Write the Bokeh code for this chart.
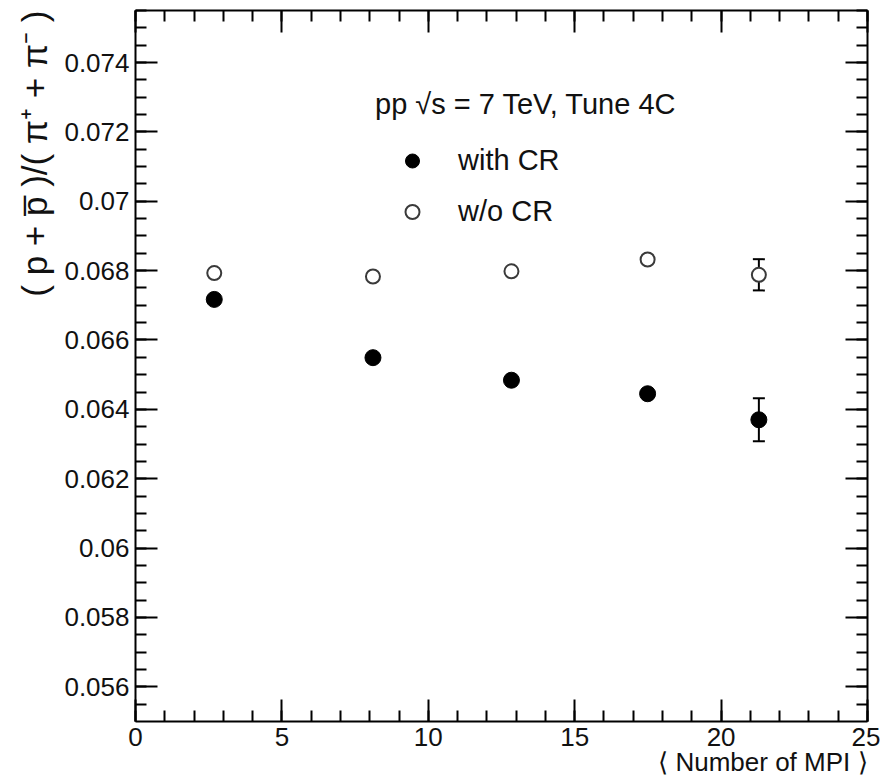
import numpy as np
from bokeh.plotting import figure
from bokeh.models import (ColumnDataSource, Whisker, TeeHead, LinearAxis, FixedTicker,
                          Legend, LegendItem, Range1d, CustomJSTickFormatter, Title)
from bokeh.embed import file_html
from bokeh.resources import INLINE

# ---- data ----
n_mpi = [2.69, 8.11, 12.84, 17.49, 21.29]
ratio_with_cr = [0.06717, 0.06549, 0.06484, 0.06445, 0.06370]
err_with_cr = [0.00008, 0.00008, 0.00008, 0.00008, 0.00062]
ratio_without_cr = [0.06793, 0.06783, 0.06798, 0.06832, 0.06788]
err_without_cr = [0.00008, 0.00008, 0.00008, 0.00008, 0.00045]

x_ticks = [0, 5, 10, 15, 20, 25]
x_tick_labels = ["0", "5", "10", "15", "20", "25"]
y_ticks = [0.056, 0.058, 0.060, 0.062, 0.064, 0.066, 0.068, 0.070, 0.072, 0.074]
y_tick_labels = ["0.056", "0.058", "0.06", "0.062", "0.064", "0.066", "0.068", "0.07", "0.072", "0.074"]

x_label = "\u27e8 Number of MPI \u27e9"
y_label = "( p + p\u0305 )/( \u03c0\u207a + \u03c0\u207b )"
legend_title = "pp \u221as = 7 TeV, Tune 4C"
series_labels = ["with CR", "w/o CR"]

FONT = "Liberation Sans"

x_range = (0, 25)
y_range = (0.055, 0.0755)

p = figure(width=880, height=778, x_range=Range1d(*x_range), y_range=Range1d(*y_range),
           output_backend="svg", toolbar_location=None,
           x_axis_type=None, y_axis_type=None,
           min_border_left=135, min_border_right=13, min_border_top=10, min_border_bottom=57)
p.outline_line_color = None
p.xgrid.visible = False
p.ygrid.visible = False
p.background_fill_color = "white"
p.border_fill_color = "white"

x_minor = [float(v) for v in range(0, 26)]
y_minor = [round(v, 4) for v in np.arange(0.0555, 0.07551, 0.0005)]
xt = FixedTicker(ticks=x_ticks, minor_ticks=x_minor)
yt = FixedTicker(ticks=y_ticks, minor_ticks=y_minor)


def style_axis(ax, show_labels):
    ax.axis_line_color = "black"
    ax.axis_line_width = 2
    ax.major_tick_line_color = "black"
    ax.major_tick_line_width = 2
    ax.minor_tick_line_color = "black"
    ax.minor_tick_line_width = 2
    ax.major_tick_in = 22
    ax.major_tick_out = 0
    ax.minor_tick_in = 11
    ax.minor_tick_out = 0
    if show_labels:
        ax.major_label_text_font = FONT
        ax.major_label_text_font_size = "26px"
        ax.major_label_text_color = "#111111"
        ax.major_label_standoff = 6
    else:
        ax.formatter = CustomJSTickFormatter(code="return ''")
        ax.major_label_text_font_size = "0px"
        ax.major_label_standoff = 0


ax_b = LinearAxis(ticker=xt, major_label_overrides=dict(zip(x_ticks, x_tick_labels)))
style_axis(ax_b, True)
p.add_layout(ax_b, "below")
p.add_layout(Title(text=x_label, align="right", text_font=FONT, text_font_size="26px",
                   text_font_style="normal", text_color="#111111",
                   standoff=-8, offset=0), "below")

ax_l = LinearAxis(ticker=yt, major_label_overrides=dict(zip(y_ticks, y_tick_labels)))
style_axis(ax_l, True)
p.add_layout(ax_l, "left")
p.add_layout(Title(text=y_label, align="right", vertical_align="bottom", text_font=FONT,
                   text_font_size="35px", text_font_style="normal", text_color="#111111",
                   standoff=15, offset=0), "left")

ax_t = LinearAxis(ticker=xt)
style_axis(ax_t, False)
p.add_layout(ax_t, "above")
ax_r = LinearAxis(ticker=yt)
style_axis(ax_r, False)
p.add_layout(ax_r, "right")

# ---- error bars (drawn under markers) ----
src_with = ColumnDataSource(dict(
    x=n_mpi, y=ratio_with_cr,
    lower=[v - e for v, e in zip(ratio_with_cr, err_with_cr)],
    upper=[v + e for v, e in zip(ratio_with_cr, err_with_cr)]))
src_wo = ColumnDataSource(dict(
    x=n_mpi, y=ratio_without_cr,
    lower=[v - e for v, e in zip(ratio_without_cr, err_without_cr)],
    upper=[v + e for v, e in zip(ratio_without_cr, err_without_cr)]))

for src in (src_with, src_wo):
    w = Whisker(base="x", lower="lower", upper="upper", source=src, dimension="height",
                line_color="black", line_width=2, level="underlay",
                upper_head=TeeHead(size=12, line_color="black", line_width=2),
                lower_head=TeeHead(size=12, line_color="black", line_width=2))
    p.add_layout(w)

r_with = p.scatter("x", "y", source=src_with, marker="circle", size=16,
                   fill_color="black", line_color="black", line_width=1)
r_wo = p.scatter("x", "y", source=src_wo, marker="circle", size=14,
                 fill_color="white", line_color="#3a3a3a", line_width=2)

legend = Legend(items=[LegendItem(label=series_labels[0], renderers=[r_with]),
                       LegendItem(label=series_labels[1], renderers=[r_wo])],
                title=legend_title, location=(240, 492),
                border_line_color=None, background_fill_alpha=0,
                padding=0, margin=0, spacing=16, glyph_width=74, glyph_height=35,
                label_standoff=9, label_text_font=FONT, label_text_font_size="29px",
                label_text_color="#111111",
                title_text_font=FONT, title_text_font_size="29px", title_text_font_style="normal",
                title_text_color="#111111", title_standoff=22)
p.add_layout(legend)

open("out.html", "w").write(file_html(p, INLINE))
